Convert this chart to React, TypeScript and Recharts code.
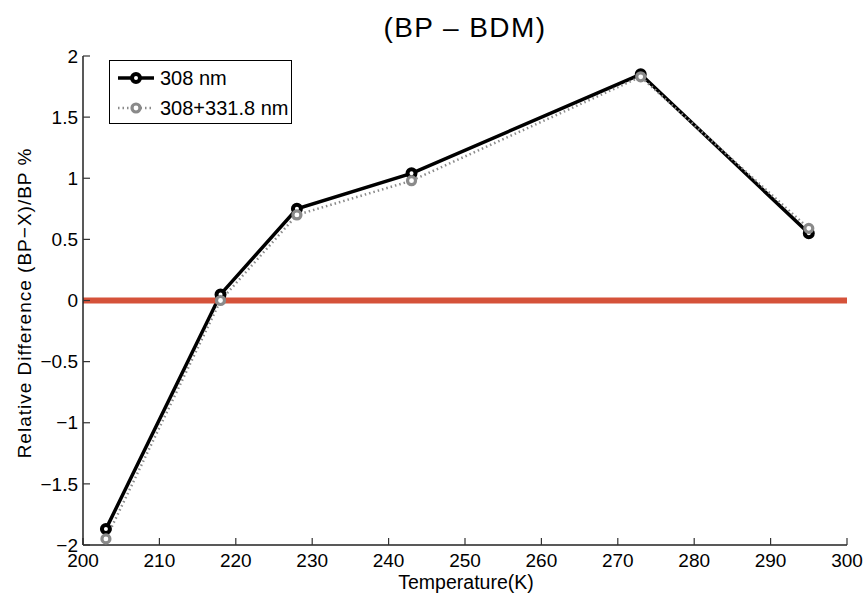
import React from "react";
import {
  LineChart, Line, XAxis, YAxis, ReferenceLine,
} from "recharts";

const temps = [203, 218, 228, 243, 273, 295];
const diff308 = [-1.87, 0.05, 0.75, 1.04, 1.85, 0.55];
const diff308_331 = [-1.95, 0.0, 0.7, 0.98, 1.83, 0.59];
const xTicks = [200, 210, 220, 230, 240, 250, 260, 270, 280, 290, 300];
const yTicks = [-2, -1.5, -1, -0.5, 0, 0.5, 1, 1.5, 2];
const seriesNames = ["308 nm", "308+331.8 nm"];

const FONT = "'Liberation Sans', Arial, Helvetica, sans-serif";
const TICK_STYLE = { fontSize: 19, fontFamily: FONT, fill: "#000" };
const AXIS_LINE = { stroke: "#222", strokeWidth: 1.5 };
const TICK_LINE = { stroke: "#333", strokeWidth: 1.2 };
const GRAY = "#8a8a8a";

const data = temps.map((t, i) => ({ t, a: diff308[i], b: diff308_331[i] }));

const fmt = (v: number) => String(v).replace("-", "\u2212");

function BlackDot(props: any) {
  const { cx, cy } = props;
  if (cx == null || cy == null) return null;
  return <circle cx={cx} cy={cy} r={4} fill="#fff" stroke="#000" strokeWidth={4} />;
}

function GrayDot(props: any) {
  const { cx, cy } = props;
  if (cx == null || cy == null) return null;
  return <circle cx={cx} cy={cy} r={4} fill="#fff" stroke={GRAY} strokeWidth={3.2} />;
}

function LegendBox() {
  const row = (label: string, dark: boolean) => (
    <div style={{ display: "flex", alignItems: "center", height: 30 }}>
      <svg width={40} height={14} style={{ marginLeft: 6, marginRight: 4 }}>
        <line x1={2} y1={7} x2={38} y2={7}
          stroke={dark ? "#000" : GRAY}
          strokeWidth={dark ? 3.5 : 2.5}
          strokeDasharray={dark ? undefined : "1.5 3"} />
        <circle cx={20} cy={7} r={4} fill="#fff"
          stroke={dark ? "#000" : GRAY} strokeWidth={dark ? 4 : 3.2} />
      </svg>
      <span style={{ fontFamily: FONT, fontSize: 20, color: "#000" }}>{label}</span>
    </div>
  );
  return (
    <div style={{
      position: "absolute", left: 109, top: 60,
      width: 181, height: 60, background: "#fff", border: "1px solid #000",
      paddingTop: 2,
    }}>
      {row(seriesNames[0], true)}
      {row(seriesNames[1], false)}
    </div>
  );
}

export default function App() {
  return (
    <div style={{ position: "absolute", left: 0, top: 0, width: 863, height: 596, background: "#fff" }}>
      <LineChart
        width={863}
        height={596}
        data={data}
        margin={{ top: 56, right: 16, left: 33, bottom: 21 }}
      >
        <XAxis
          dataKey="t" type="number" domain={[200, 300]} ticks={xTicks}
          allowDataOverflow height={30}
          axisLine={AXIS_LINE} tickLine={TICK_LINE} tickSize={-7} tickMargin={16}
          tick={TICK_STYLE}
        />
        <XAxis
          xAxisId="top" orientation="top" dataKey="t" type="number"
          domain={[200, 300]} ticks={xTicks} allowDataOverflow height={0}
          axisLine={AXIS_LINE} tickLine={TICK_LINE} tickSize={-7} tick={false}
        />
        <YAxis
          type="number" domain={[-2, 2]} ticks={yTicks} allowDataOverflow width={50}
          axisLine={AXIS_LINE} tickLine={TICK_LINE} tickSize={-7} tickMargin={12}
          tick={TICK_STYLE} tickFormatter={fmt}
        />
        <YAxis
          yAxisId="right" orientation="right" type="number" domain={[-2, 2]}
          ticks={yTicks} allowDataOverflow width={0}
          axisLine={AXIS_LINE} tickLine={TICK_LINE} tickSize={-7} tick={false}
        />
        <Line
          dataKey="a" name={seriesNames[0]} stroke="#000" strokeWidth={3.5}
          dot={<BlackDot />} activeDot={false} isAnimationActive={false}
        />
        <Line
          dataKey="b" name={seriesNames[1]} stroke={GRAY} strokeWidth={2.5}
          strokeDasharray="1.5 3" dot={<GrayDot />} activeDot={false}
          isAnimationActive={false}
        />
        <ReferenceLine y={0} stroke="#d5523a" strokeWidth={6} />
      </LineChart>

      <LegendBox />

      <div style={{
        position: "absolute", left: 465, top: 28, transform: "translate(-50%, -50%)",
        fontFamily: FONT, fontSize: 28, letterSpacing: 1.4, whiteSpace: "nowrap", color: "#000",
      }}>(BP – BDM)</div>
      <div style={{
        position: "absolute", left: 466, top: 582, transform: "translate(-50%, -50%)",
        fontFamily: FONT, fontSize: 19.5, whiteSpace: "nowrap", color: "#000",
      }}>Temperature(K)</div>
      <div style={{
        position: "absolute", left: 25, top: 303,
        transform: "translate(-50%, -50%) rotate(-90deg)",
        fontFamily: FONT, fontSize: 19, letterSpacing: 1, whiteSpace: "nowrap", color: "#000",
      }}>Relative Difference (BP{"\u2212"}X)/BP %</div>
    </div>
  );
}
